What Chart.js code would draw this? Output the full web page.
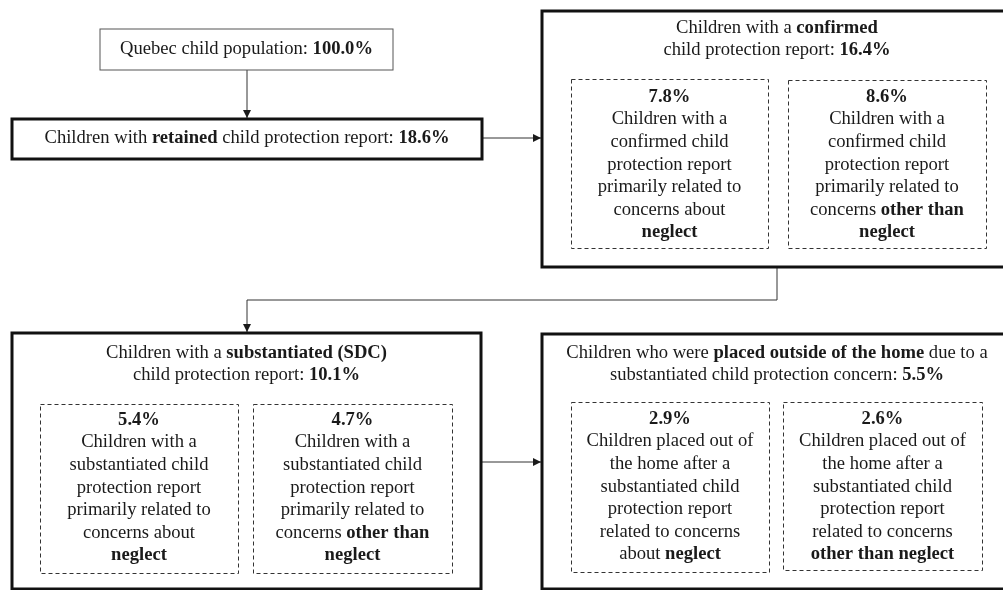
<!DOCTYPE html>
<html>
<head>
<meta charset="utf-8">
<script src="https://cdn.jsdelivr.net/npm/chart.js@4"></script>
<style>
  html, body { margin: 0; padding: 0; background: #fff; }
  #wrap { width: 1003px; height: 590px; position: relative; }
</style>
</head>
<body>
<div id="wrap"><canvas id="flow"></canvas></div>
<script>
// values
const mainPct = [100.0, 18.6, 16.4, 10.1, 5.5];
const confirmedPct = [7.8, 8.6];
const sdcPct = [5.4, 4.7];
const placedPct = [2.9, 2.6];

// text, "**" marks bold parts, {p} is the percentage
const mainText = [
  ["Quebec child population: **{p}**"],
  ["Children with **retained** child protection report: **{p}**"],
  ["Children with a **confirmed**", "child protection report: **{p}**"],
  ["Children with a **substantiated (SDC)**", "child protection report: **{p}**"],
  ["Children who were **placed outside of the home** due to a", "substantiated child protection concern: **{p}**"],
];
const confirmedText = [
  ["Children with a", "confirmed child", "protection report", "primarily related to", "concerns about", "**neglect**"],
  ["Children with a", "confirmed child", "protection report", "primarily related to", "concerns **other than**", "**neglect**"],
];
const sdcText = [
  ["Children with a", "substantiated child", "protection report", "primarily related to", "concerns about", "**neglect**"],
  ["Children with a", "substantiated child", "protection report", "primarily related to", "concerns **other than**", "**neglect**"],
];
const placedText = [
  ["Children placed out of", "the home after a", "substantiated child", "protection report", "related to concerns", "about **neglect**"],
  ["Children placed out of", "the home after a", "substantiated child", "protection report", "related to concerns", "**other than neglect**"],
];

// layout (in the 1003 x 590 value space of the hidden axes)
const mainBoxes = [
  { x0: 100, x1: 393, y0: 29, y1: 70, lw: 1, ty: 49, color: "#555" },
  { x0: 12, x1: 482, y0: 119, y1: 159, lw: 3, ty: 138 },
  { x0: 542, x1: 1012, y0: 11, y1: 267, lw: 3, ty: 28 },
  { x0: 12, x1: 481, y0: 333, y1: 589, lw: 3, ty: 353 },
  { x0: 542, x1: 1012, y0: 334, y1: 589, lw: 3, ty: 353 },
];
const subBoxes = [
  [{ x0: 571, x1: 768, y0: 79, y1: 248, ty: 97 }, { x0: 788, x1: 986, y0: 80, y1: 248, ty: 97 }],
  [{ x0: 40, x1: 238, y0: 404, y1: 573, ty: 420 }, { x0: 253, x1: 452, y0: 404, y1: 573, ty: 420 }],
  [{ x0: 571, x1: 769, y0: 402, y1: 572, ty: 419 }, { x0: 783, x1: 982, y0: 402, y1: 570, ty: 419 }],
];
const arrows = [
  [[247, 70], [247, 118]],
  [[482, 138], [541, 138]],
  [[777, 267], [777, 300], [247, 300], [247, 332]],
  [[482, 462], [541, 462]],
];
const lineStep = 22.6;
const fontSize = 18.6;
const fontFam = "'Liberation Serif', 'Times New Roman', serif";

function fmt(p) {
  return p.toFixed(1) + "%";
}

function drawRich(ctx, line, cx, cy) {
  const parts = line.split("**");
  let total = 0;
  for (let i = 0; i < parts.length; i++) {
    ctx.font = (i % 2 ? "bold " : "") + fontSize + "px " + fontFam;
    total += ctx.measureText(parts[i]).width;
  }
  let x = cx - total / 2;
  for (let i = 0; i < parts.length; i++) {
    ctx.font = (i % 2 ? "bold " : "") + fontSize + "px " + fontFam;
    ctx.fillText(parts[i], x, cy);
    x += ctx.measureText(parts[i]).width;
  }
}

const flowPlugin = {
  id: "flow",
  afterDraw(chart) {
    const { ctx } = chart;
    const sx = chart.scales.x;
    const sy = chart.scales.y;
    const px = (v) => sx.getPixelForValue(v);
    const py = (v) => sy.getPixelForValue(v);
    ctx.save();
    ctx.textBaseline = "middle";
    ctx.textAlign = "left";
    ctx.fillStyle = "#1a1a1a";

    // arrows
    ctx.strokeStyle = "#333";
    ctx.lineWidth = 1;
    arrows.forEach((pts) => {
      ctx.beginPath();
      ctx.moveTo(px(pts[0][0]), py(pts[0][1]));
      for (let i = 1; i < pts.length; i++) ctx.lineTo(px(pts[i][0]), py(pts[i][1]));
      ctx.stroke();
      const a = pts[pts.length - 2], b = pts[pts.length - 1];
      const ang = Math.atan2(py(b[1]) - py(a[1]), px(b[0]) - px(a[0]));
      const tx = px(b[0]), ty = py(b[1]);
      ctx.beginPath();
      ctx.moveTo(tx, ty);
      ctx.lineTo(tx - 8 * Math.cos(ang) + 4 * Math.sin(ang), ty - 8 * Math.sin(ang) - 4 * Math.cos(ang));
      ctx.lineTo(tx - 8 * Math.cos(ang) - 4 * Math.sin(ang), ty - 8 * Math.sin(ang) + 4 * Math.cos(ang));
      ctx.closePath();
      ctx.fillStyle = "#1a1a1a";
      ctx.fill();
    });

    // main boxes
    mainBoxes.forEach((b, i) => {
      ctx.strokeStyle = b.color || "#111";
      ctx.lineWidth = b.lw;
      ctx.setLineDash([]);
      ctx.strokeRect(px(b.x0), py(b.y0), px(b.x1) - px(b.x0), py(b.y1) - py(b.y0));
      const cx = (px(b.x0) + px(b.x1)) / 2;
      mainText[i].forEach((ln, k) => {
        drawRich(ctx, ln.replace("{p}", fmt(mainPct[i])), cx, py(b.ty + k * lineStep));
      });
    });

    // dashed sub boxes
    const subPct = [confirmedPct, sdcPct, placedPct];
    const subText = [confirmedText, sdcText, placedText];
    subBoxes.forEach((pair, g) => {
      pair.forEach((b, j) => {
        ctx.strokeStyle = "#333";
        ctx.lineWidth = 1;
        ctx.setLineDash([4, 3]);
        ctx.strokeRect(px(b.x0) + 0.5, py(b.y0) + 0.5, px(b.x1) - px(b.x0), py(b.y1) - py(b.y0));
        ctx.setLineDash([]);
        const cx = (px(b.x0) + px(b.x1)) / 2;
        drawRich(ctx, "**" + fmt(subPct[g][j]) + "**", cx, py(b.ty));
        subText[g][j].forEach((ln, k) => {
          drawRich(ctx, ln, cx, py(b.ty + (k + 1) * lineStep));
        });
      });
    });
    ctx.restore();
  },
};

new Chart(document.getElementById("flow"), {
  type: "scatter",
  data: { datasets: [{ data: [], pointRadius: 0 }] },
  options: {
    responsive: true,
    maintainAspectRatio: false,
    animation: false,
    layout: { padding: 0 },
    plugins: { legend: { display: false }, tooltip: { enabled: false } },
    scales: {
      x: { type: "linear", min: 0, max: 1003, display: false },
      y: { type: "linear", min: 0, max: 590, reverse: true, display: false },
    },
  },
  plugins: [flowPlugin],
});
</script>
</body>
</html>
